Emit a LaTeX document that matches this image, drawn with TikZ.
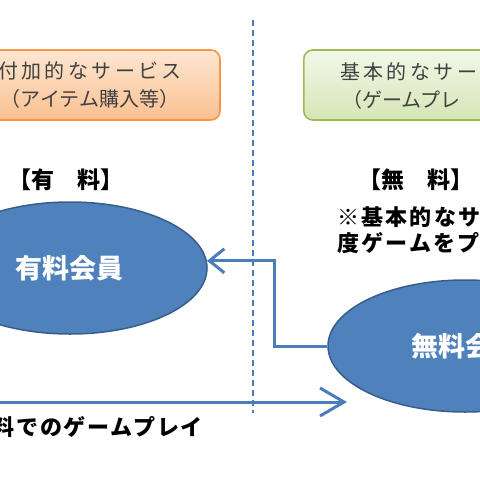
\documentclass[tikz,border=0pt]{standalone}
\usepackage{fontspec}
\setmainfont{Noto Sans CJK JP}
\definecolor{acc}{HTML}{4A7EBB}
\definecolor{accd}{HTML}{385D8A}
\definecolor{fillb}{HTML}{4F81BD}
\definecolor{org}{HTML}{F79646}
\definecolor{orgl}{HTML}{FDE6D3}
\definecolor{orgd}{HTML}{FAC090}
\definecolor{grn}{HTML}{9BBB59}
\definecolor{grnl}{HTML}{F3F8EA}
\definecolor{grnd}{HTML}{D5E5B5}
\definecolor{ink}{HTML}{404040}
\usetikzlibrary{arrows.meta,shapes.geometric}
\tikzset{
  box/.style={draw,rounded corners=9pt,line width=1.6pt,minimum width=260pt,minimum height=70pt,inner sep=0pt},
  obox/.style={box,draw=org,top color=orgl,bottom color=orgd},
  gbox/.style={box,draw=grn,top color=grnl,bottom color=grnd},
  btxt/.style={font=\fontsize{20}{28}\selectfont,text=ink,align=center,inner sep=0pt},
  hd/.style={font=\fontsize{23}{26}\bfseries\selectfont,inner sep=0pt},
  nt/.style={font=\fontsize{22}{25}\bfseries\selectfont,inner sep=0pt,anchor=west},
  mem/.style={ellipse,draw=accd,fill=fillb,line width=1.5pt,minimum width=274pt,minimum height=132pt,inner sep=0pt,
    font=\fontsize{27}{30}\bfseries\selectfont,text=white},
  arr/.style={-{Straight Barb[length=15pt,width=24pt]},draw=acc,line width=3pt},
  arr2/.style={-{Straight Barb[length=24pt,width=28pt]},draw=acc,line width=3pt},
  dl/.style={draw=acc,line width=2.5pt,dash pattern=on 6pt off 4pt},
}
\begin{document}
\begin{tikzpicture}[x=1pt,y=-1pt]
\useasboundingbox (0,0) rectangle (480,480);
\clip (0,0) rectangle (480,480);
% upper boxes
\node[obox] (ob) at (90,85) {};
\node[btxt] (obt) at (ob.center) {{\addfontfeature{LetterSpace=17}付加的なサービス}\\（アイテム購入等）};
\node[gbox,anchor=west] (gb) at (303,85) {};
\node[btxt,anchor=west] (gbt1) at (340,72) {\addfontfeature{LetterSpace=17}基本的なサー};
\node[btxt,anchor=west] (gbt2) at (342,100) {（ゲームプレ};
% separator
\coordinate (dt) at (253,20);
\coordinate (db) at (253,413);
\draw[dl] (dt) -- (db);
% headings
\node[hd] (hy) at (66,180) {【有　料】};
\node[hd] (hm) at (416,180) {【無　料】};
\node[nt] (n1) at (337,217) {{\addfontfeature{LetterSpace=10}※基本的なサ}};
\node[nt] (n2) at (337,243) {{\addfontfeature{LetterSpace=10}度ゲームをプ}};
% members
\node[mem] (yu) at (70,268) {有料会員};
\node[mem] (mu) at (465,346) {無料会員};
\draw[arr] (mu.west) -- ++(-53,0) |- (yu.3.5);
% free play
\coordinate (fs) at (-20,402);
\coordinate (fe) at (347,402);
\draw[arr2] (fs) -- (fe);
\node[nt,anchor=east] (fp) at (203,427) {\addfontfeature{LetterSpace=8}料でのゲームプレイ};
\end{tikzpicture}
\end{document}
